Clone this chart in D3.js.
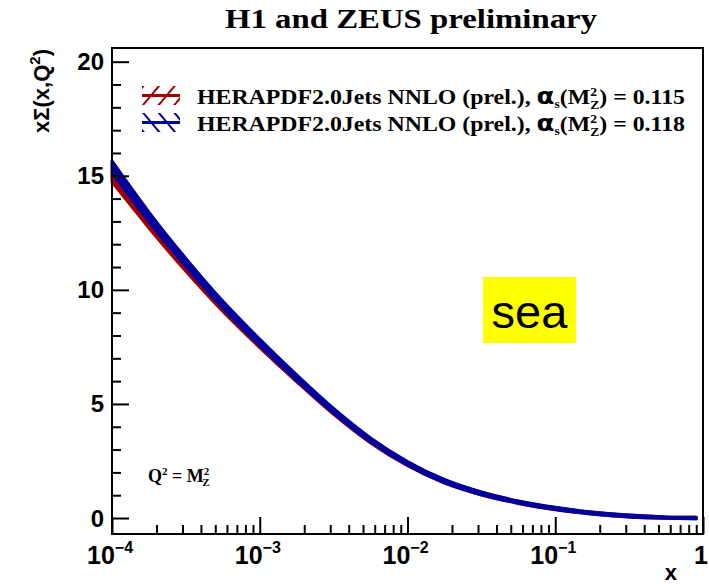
<!DOCTYPE html>
<html>
<head>
<meta charset="utf-8">
<script src="https://cdn.jsdelivr.net/npm/d3@7"></script>
<style>
  body { margin: 0; background: #fff; }
</style>
</head>
<body>
<div id="chart"></div>
<script>
const W = 709, H = 584
const FRAME = { LEFT: 112, RIGHT: 703, TOP: 48, BOTTOM: 534 }

// x grid (log spaced) and the two bands
const xVals = [1e-4, 1.778e-4, 3.162e-4, 5.623e-4, 1e-3, 1.778e-3, 3.162e-3, 5.623e-3,
  1e-2, 1.778e-2, 3.162e-2, 5.623e-2, 0.1, 0.1778, 0.3162, 0.5623, 0.9]
const sea115 = [14.95, 12.9, 10.98, 9.2, 7.6, 6.08, 4.64, 3.38, 2.37, 1.6, 1.07, 0.69, 0.41, 0.21, 0.09, 0.02, 0.0]
const err115 = [0.22, 0.19, 0.17, 0.15, 0.13, 0.11, 0.1, 0.09, 0.08, 0.07, 0.06, 0.05, 0.05, 0.04, 0.04, 0.03, 0.03]
const sea118 = [15.4, 13.2, 11.2, 9.35, 7.7, 6.15, 4.7, 3.42, 2.4, 1.62, 1.08, 0.7, 0.42, 0.22, 0.09, 0.02, 0.0]
const err118 = [0.25, 0.21, 0.18, 0.16, 0.14, 0.12, 0.1, 0.09, 0.08, 0.07, 0.06, 0.05, 0.05, 0.04, 0.04, 0.03, 0.03]

const xMajor = [1e-4, 1e-3, 1e-2, 1e-1, 1]
const xMajorExp = ["\u22124", "\u22123", "\u22122", "\u22121", ""]
const yMajor = [0, 5, 10, 15, 20]
const legendLabels = ["0.115", "0.118"]

const RED = "#a00000", BLUE = "#00009c"
const SERIF = "'Liberation Serif', 'Times New Roman', serif"

const svg = d3.select("#chart").append("svg")
  .attr("width", W)
  .attr("height", H)
  .style("font-family", "'Liberation Sans', Arial, sans-serif")

const x = d3.scaleLog()
  .domain([1e-4, 1])
  .range([FRAME.LEFT, FRAME.RIGHT])

const y = d3.scaleLinear()
  .domain([-0.7, 20.6])
  .range([FRAME.BOTTOM, FRAME.TOP])

// hatch patterns for the legend boxes
const defs = svg.append("defs")
defs.append("pattern")
  .attr("id", "hatchRed").attr("patternUnits", "userSpaceOnUse")
  .attr("width", 12).attr("height", 12)
  .attr("patternTransform", "rotate(40)")
  .append("line").attr("x1", 0).attr("y1", 0).attr("x2", 0).attr("y2", 12)
  .attr("stroke", RED).attr("stroke-width", 4)
defs.append("pattern")
  .attr("id", "hatchBlue").attr("patternUnits", "userSpaceOnUse")
  .attr("width", 12).attr("height", 12)
  .attr("patternTransform", "rotate(-40)")
  .append("line").attr("x1", 0).attr("y1", 0).attr("x2", 0).attr("y2", 12)
  .attr("stroke", BLUE).attr("stroke-width", 4)

// bands
const bands = [
  { v: sea115, e: err115, color: RED },
  { v: sea118, e: err118, color: BLUE }
]

const area = d3.area()
  .x(d => x(d.x))
  .y0(d => y(d.lo))
  .y1(d => y(d.hi))
  .curve(d3.curveMonotoneX)

bands.forEach(b => {
  const pts = xVals.map((xv, i) => ({ x: xv, lo: b.v[i] - b.e[i], hi: b.v[i] + b.e[i] }))
  svg.append("path")
    .datum(pts)
    .attr("d", area)
    .attr("fill", b.color)
    .attr("stroke", b.color)
    .attr("stroke-width", 3)
    .attr("stroke-linejoin", "round")
})

// frame
svg.append("rect")
  .attr("x", FRAME.LEFT).attr("y", FRAME.TOP)
  .attr("width", FRAME.RIGHT - FRAME.LEFT)
  .attr("height", FRAME.BOTTOM - FRAME.TOP)
  .attr("fill", "none").attr("stroke", "#000").attr("stroke-width", 2)

// y axis ticks
const yAxis = d3.axisRight(y)
  .tickValues(d3.range(0, 21, 1))
  .tickFormat("")
  .tickSizeOuter(0)
const yAxisGroup = svg.append("g")
  .attr("transform", `translate(${FRAME.LEFT}, 0)`)
  .call(yAxis)
yAxisGroup.select(".domain").remove()
yAxisGroup.selectAll(".tick line")
  .attr("x2", d => d % 5 === 0 ? 17 : 9)
  .attr("stroke", "#000").attr("stroke-width", 2)

svg.selectAll(".ylab")
  .data(yMajor)
  .enter().append("text")
  .attr("class", "ylab")
  .attr("x", 104)
  .attr("y", d => y(d) + 8.5)
  .attr("text-anchor", "end")
  .attr("font-size", 24)
  .attr("font-weight", "bold")
  .text(d => d)

// x axis ticks (major + minor)
const xMinor = []
for (let e = -4; e < 0; e++) {
  for (let m = 2; m <= 9; m++) xMinor.push(m * Math.pow(10, e))
}
const xAxis = d3.axisTop(x)
  .tickValues(xMajor.concat(xMinor))
  .tickFormat("")
  .tickSizeOuter(0)
const xAxisGroup = svg.append("g")
  .attr("transform", `translate(0, ${FRAME.BOTTOM})`)
  .call(xAxis)
xAxisGroup.select(".domain").remove()
xAxisGroup.selectAll(".tick line")
  .attr("y2", d => xMajor.includes(d) ? -17 : -9)
  .attr("stroke", "#000").attr("stroke-width", 2)

const xLab = svg.selectAll(".xlab")
  .data(xMajor)
  .enter().append("text")
  .attr("class", "xlab")
  .attr("x", (d, i) => i === 4 ? x(d) - 9 : x(d) - 25)
  .attr("y", 564)
  .attr("font-size", 25)
  .attr("font-weight", "bold")
xLab.append("tspan").text((d, i) => i === 4 ? "1" : "10")
xLab.append("tspan")
  .attr("dy", -11)
  .attr("font-size", 16)
  .text((d, i) => xMajorExp[i])

// axis titles
svg.append("text")
  .attr("x", 677).attr("y", 580)
  .attr("text-anchor", "end")
  .attr("font-size", 22).attr("font-weight", "bold")
  .text("x")

const yTitle = svg.append("text")
  .attr("transform", "translate(49, 49) rotate(-90)")
  .attr("text-anchor", "end")
  .attr("font-size", 22).attr("font-weight", "bold")
yTitle.append("tspan").text("x\u03A3(x,Q")
yTitle.append("tspan").attr("dy", -9).attr("font-size", 15).text("2")
yTitle.append("tspan").attr("dy", 9).text(")")

// title
svg.append("text")
  .attr("x", 411).attr("y", 28)
  .attr("text-anchor", "middle")
  .attr("font-family", SERIF)
  .attr("font-size", 28).attr("font-weight", "bold")
  .attr("textLength", 372).attr("lengthAdjust", "spacingAndGlyphs")
  .text("H1 and ZEUS preliminary")

// legend
const legend = svg.append("g")
  .attr("font-family", SERIF)
  .attr("font-weight", "bold")

legendLabels.forEach((lab, i) => {
  const row = legend.append("g").attr("transform", `translate(142, ${86 + i * 27})`)
  const color = i === 0 ? RED : BLUE
  row.append("rect")
    .attr("width", 38).attr("height", 19)
    .attr("fill", `url(#${i === 0 ? "hatchRed" : "hatchBlue"})`)
  row.append("line")
    .attr("x1", 0).attr("x2", 38).attr("y1", 9.5).attr("y2", 9.5)
    .attr("stroke", color).attr("stroke-width", 3)

  const t = row.append("text")
    .attr("x", 55).attr("y", 18)
    .attr("font-size", 21)
    .attr("textLength", 488).attr("lengthAdjust", "spacingAndGlyphs")
  t.append("tspan").text("HERAPDF2.0Jets NNLO (prel.), ")
  t.append("tspan").attr("font-family", "'DejaVu Sans', sans-serif").attr("font-size", 23).text("\u03B1")
  t.append("tspan").attr("dy", 4).attr("font-size", 12).text("s")
  t.append("tspan").attr("dy", -4).text("(M")
  t.append("tspan").attr("dy", -8).attr("font-size", 12).text("2")
  t.append("tspan").attr("dx", -6).attr("dy", 13).attr("font-size", 12).text("Z")
  t.append("tspan").attr("dy", -5).text(") = " + lab)
})

// Q2 label
const q = svg.append("text")
  .attr("x", 148).attr("y", 482)
  .attr("font-family", SERIF)
  .attr("font-weight", "bold")
  .attr("font-size", 18)
q.append("tspan").text("Q")
q.append("tspan").attr("dy", -7).attr("font-size", 11).text("2")
q.append("tspan").attr("dy", 7).text(" = M")
q.append("tspan").attr("dy", -7).attr("font-size", 11).text("2")
q.append("tspan").attr("dx", -7).attr("dy", 11).attr("font-size", 11).text("Z")

// "sea" box
svg.append("rect")
  .attr("x", 483).attr("y", 277)
  .attr("width", 93).attr("height", 66)
  .attr("fill", "#ffff00")
svg.append("text")
  .attr("x", 529.5).attr("y", 328)
  .attr("text-anchor", "middle")
  .attr("font-size", 47)
  .text("sea")
</script>
</body>
</html>
